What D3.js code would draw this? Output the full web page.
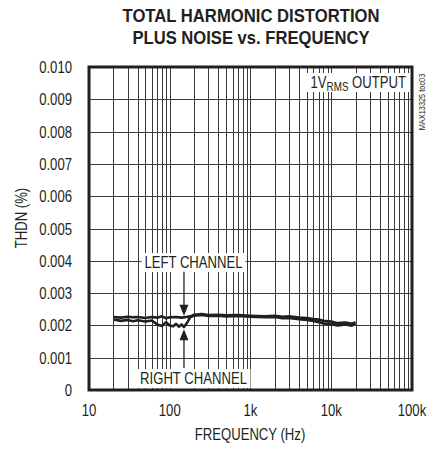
<!DOCTYPE html>
<html><head><meta charset="utf-8">
<script src="https://cdn.jsdelivr.net/npm/d3@7/dist/d3.min.js"></script>
<style>
html,body{margin:0;padding:0;background:#fff;}
svg{display:block;}
text{font-family:"Liberation Sans","Arial",sans-serif;fill:#231f20;}
</style></head>
<body>
<svg id="chart" width="435" height="451"></svg>
<script>
const titleLines = ["TOTAL HARMONIC DISTORTION", "PLUS NOISE vs. FREQUENCY"];
const xTickValues = [10, 100, 1000, 10000, 100000];
const xTickLabels = ["10", "100", "1k", "10k", "100k"];
const yTickValues = [0, 0.001, 0.002, 0.003, 0.004, 0.005, 0.006, 0.007, 0.008, 0.009, 0.010];
const yTickLabels = ["0", "0.001", "0.002", "0.003", "0.004", "0.005", "0.006", "0.007", "0.008", "0.009", "0.010"];

const leftFreq = [20,25,30,35,40,50,60,70,80,90,100,120,140,160,180,200,250,300,400,500,700,1000,1500,2000,2500,3000,4000,5000,6000,7000,8000,10000,12000,15000,18000,20000];
const leftThdn = [0.00226,0.00224,0.00227,0.00225,0.00226,0.00223,0.00226,0.00224,0.00228,0.00222,0.00225,0.00226,0.00224,0.00226,0.00228,0.00233,0.00235,0.00232,0.00233,0.00231,0.00232,0.00230,0.00228,0.00230,0.00227,0.00228,0.00224,0.00223,0.00220,0.00218,0.00214,0.00212,0.00207,0.00209,0.00205,0.00210];

const rightFreq = [20,25,30,35,40,50,60,70,80,90,100,110,120,130,140,150,160,170,180,200,250,300,400,500,700,1000,1500,2000,2500,3000,4000,5000,6000,7000,8000,10000,12000,15000,18000,20000];
const rightThdn = [0.00218,0.00214,0.00217,0.00213,0.00216,0.00212,0.00215,0.00203,0.00198,0.00210,0.00200,0.00197,0.00205,0.00196,0.00203,0.00195,0.00204,0.00215,0.00226,0.00230,0.00232,0.00229,0.00230,0.00228,0.00229,0.00227,0.00225,0.00226,0.00222,0.00223,0.00219,0.00217,0.00214,0.00210,0.00206,0.00204,0.00200,0.00203,0.00199,0.00205];

const annotations = [
  {label: "LEFT CHANNEL", freq: 150, tip: 0.00230, from: 0.00366},
  {label: "RIGHT CHANNEL", freq: 150, tip: 0.00188, from: 0.00068}
];
const outputLabel = {main: "1V", sub: "RMS", rest: " OUTPUT"};
const sideNote = "MAX13325 toc03";

const svg = d3.select("#chart");
const m = {l: 89, r: 412, t: 67, b: 390};
const x = d3.scaleLog().domain([10, 100000]).range([m.l, m.r]);
const y = d3.scaleLinear().domain([0, 0.010]).range([m.b, m.t]);
const ink = "#231f20";
const SX = 0.82; // condensed look
const fs = 16;

function ctext(px, py, str, opts = {}) {
  const g = svg.append("g").attr("transform", `translate(${px},${py})${opts.rot ? ` rotate(${opts.rot})` : ""} scale(${opts.sx || SX},1)`);
  const t = g.append("text").attr("x", 0).attr("y", 0)
    .attr("text-anchor", opts.anchor || "middle")
    .attr("font-size", opts.size || fs)
    .attr("font-weight", opts.weight || "normal");
  if (str !== null) t.text(str);
  return t;
}

// title
titleLines.forEach((d, i) => {
  svg.append("text").attr("x", 251).attr("y", 22 + i*22)
    .attr("text-anchor","middle").attr("font-size", 19).attr("font-weight","bold")
    .attr("textLength", i===0 ? 257 : 237).attr("lengthAdjust","spacingAndGlyphs")
    .text(d);
});

// grid
const grid = svg.append("g");
const minor = [];
for (let k = 1; k <= 4; k++) for (let j = 1; j <= 9; j++) minor.push(j * Math.pow(10, k));
minor.push(100000);
grid.selectAll("line.v").data(minor).join("line")
  .attr("x1", d => Math.round(x(d)) + 0.5).attr("x2", d => Math.round(x(d)) + 0.5)
  .attr("y1", m.t).attr("y2", m.b)
  .attr("stroke", "#3a3a3a").attr("stroke-width", 1);
grid.selectAll("line.h").data(yTickValues).join("line")
  .attr("y1", d => Math.round(y(d)) + 0.5).attr("y2", d => Math.round(y(d)) + 0.5)
  .attr("x1", m.l).attr("x2", m.r)
  .attr("stroke", "#3a3a3a").attr("stroke-width", 1);

// label boxes (cover grid)
const a0 = annotations[0], a1 = annotations[1];
function boxLabel(label, cx, baseline, w) {
  svg.append("rect").attr("x", cx - w/2).attr("y", baseline - 15).attr("width", w).attr("height", 19).attr("fill", "#fff");
  ctext(cx, baseline, label);
}
boxLabel(a0.label, 193.5, 268, 104);
boxLabel(a1.label, 193.5, 384, 114);

// 1VRMS OUTPUT
svg.append("rect").attr("x", 302).attr("y", 73).attr("width", 107).attr("height", 19).attr("fill","#fff");
const t1 = ctext(406, 88, null, {anchor: "end"});
t1.append("tspan").text(outputLabel.main);
t1.append("tspan").attr("font-size", 12).attr("dy", 3).text(outputLabel.sub);
t1.append("tspan").attr("dy", -3).text(outputLabel.rest);

// arrows
annotations.forEach(a => {
  const ax = x(a.freq);
  const tipY = y(a.tip), fromY = y(a.from);
  const dir = tipY > fromY ? 1 : -1;
  svg.append("line").attr("x1", ax).attr("x2", ax).attr("y1", fromY).attr("y2", tipY - dir*6)
    .attr("stroke", ink).attr("stroke-width", 1.3);
  svg.append("path").attr("d", `M${ax-4.5},${tipY - dir*11} L${ax+4.5},${tipY - dir*11} L${ax},${tipY} Z`).attr("fill", ink);
});

// curves
const line = d3.line().x(d => x(d[0])).y(d => y(d[1])).curve(d3.curveLinear);
const leftData = leftFreq.map((f,i) => [f, leftThdn[i]]);
const rightData = rightFreq.map((f,i) => [f, rightThdn[i]]);
[leftData, rightData].forEach(dat => {
  svg.append("path").datum(dat).attr("d", line).attr("fill","none")
    .attr("stroke", ink).attr("stroke-width", 2.6).attr("stroke-linejoin","round");
});

// frame
svg.append("rect").attr("x", m.l).attr("y", m.t).attr("width", m.r - m.l).attr("height", m.b - m.t)
  .attr("fill","none").attr("stroke", ink).attr("stroke-width", 3);

// axes labels
xTickValues.forEach((d, i) => ctext(x(d), 416, xTickLabels[i]));
yTickValues.forEach((d, i) => ctext(72, y(d) + 6, yTickLabels[i], {anchor: "end"}));

ctext(250, 440, "FREQUENCY (Hz)");
ctext(27, 218, "THDN (%)", {rot: -90});
ctext(425, 102, sideNote, {rot: -90, size: 9});
</script>
</body></html>
